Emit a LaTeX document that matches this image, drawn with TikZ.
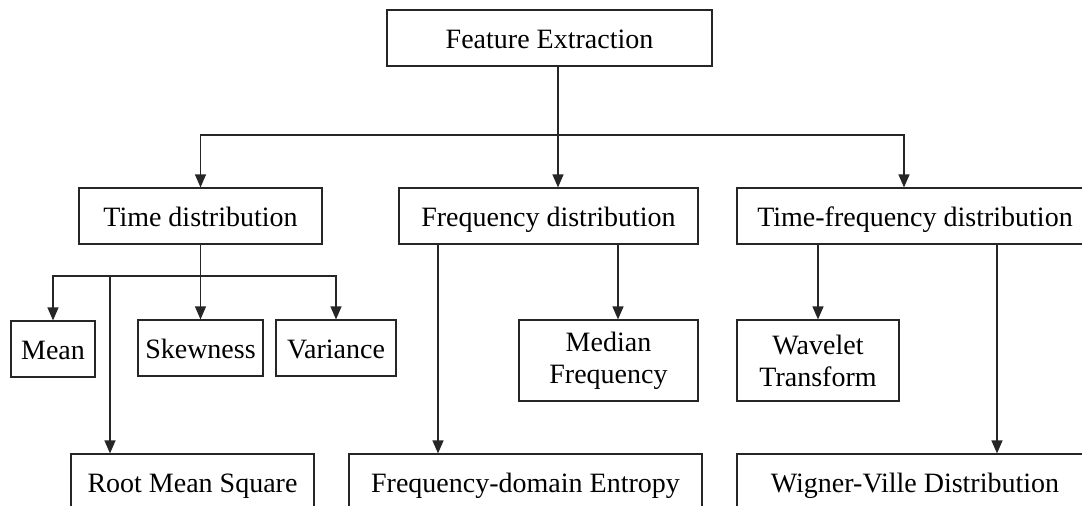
\documentclass[tikz,border=0pt]{standalone}
\usepackage{fontspec}
\setmainfont{Liberation Serif}
\usetikzlibrary{arrows.meta}
\begin{document}
\begin{tikzpicture}[x=1pt,y=-1pt,
  base/.style={draw=black!85,line width=1.2pt,inner sep=0pt,align=center,
    font=\fontsize{28}{32}\selectfont},
  box/.style={base,minimum height=56pt,text height=26pt,text depth=6pt},
  tall/.style={base,minimum height=81pt},
  arr/.style={draw=black!85,line width=1.2pt,-{Triangle[length=13pt,width=11pt]}}]
\useasboundingbox (0,0) rectangle (1082,506);
\clip (0,0) rectangle (1082,506);
\node[box,minimum width=325pt] (fe) at (549.5,38) {Feature Extraction};
\node[box,minimum width=243pt] (td) at (200.5,216) {Time distribution};
\node[box,minimum width=299pt] (fd) at (548.5,216) {Frequency distribution};
\node[box,minimum width=356pt] (tf) at (915,216) {Time-frequency distribution};
\node[box,minimum width=84pt] (mean) at (53,349) {Mean};
\node[box,minimum width=125pt] (sk) at (200.5,348) {Skewness};
\node[box,minimum width=120pt] (var) at (336,348) {Variance};
\node[tall,minimum width=179pt] (mf) at (608.5,360.5) {Median\\Frequency};
\node[tall,minimum width=162pt] (wt) at (818,360.5) {Wavelet\\Transform};
\node[box,minimum width=243pt] (rms) at (192.5,482) {Root Mean Square};
\node[box,minimum width=353pt] (fde) at (525.5,482) {Frequency-domain Entropy};
\node[box,minimum width=356pt] (wv) at (915,482) {Wigner-Ville Distribution};
% level 1
\coordinate (b1) at (558,135);
\draw[arr] ([xshift=8.5]fe.south) -- ([xshift=9.5]fd.north);
\draw[arr] (b1) -| (td.north);
\draw[arr] (b1) -| ([xshift=-11]tf.north);
% time distribution
\coordinate (b2) at (200.5,276);
\draw[arr] (td.south) -- (sk.north);
\draw[arr] (b2) -| (mean.north);
\draw[arr] (b2) -| (var.north);
\draw[arr] (b2) -| ([xshift=-82.5]rms.north);
% frequency distribution
\draw[arr] ([xshift=-110.5]fd.south) -- ([xshift=-87.5]fde.north);
\draw[arr] ([xshift=69.5]fd.south) -- ([xshift=9.5]mf.north);
% time-frequency
\draw[arr] ([xshift=-97]tf.south) -- (wt.north);
\draw[arr] ([xshift=82]tf.south) -- ([xshift=82]wv.north);
\end{tikzpicture}
\end{document}
